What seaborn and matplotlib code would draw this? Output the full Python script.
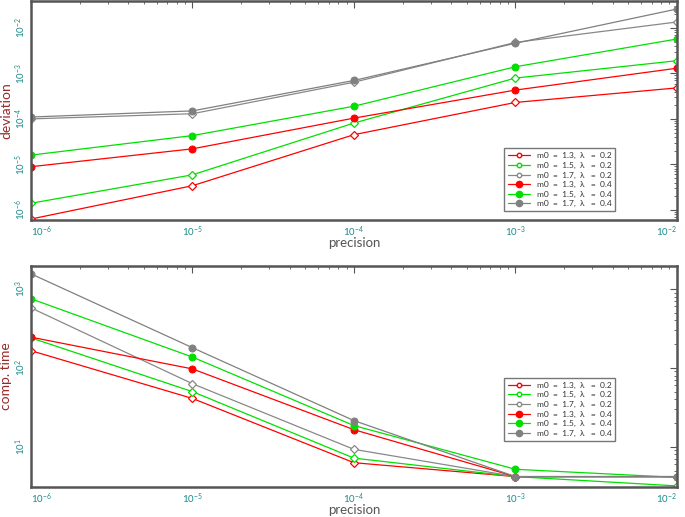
import numpy as np
import pandas as pd
import matplotlib
matplotlib.use("Agg")
import matplotlib.pyplot as plt
from matplotlib.lines import Line2D
import seaborn as sns

# precision values (x axis)
precision = [1e-6, 1e-5, 1e-4, 1e-3, 1e-2]

labels = ["m0  =  1.3,  \u03bb   =  0.2", "m0  =  1.5,  \u03bb   =  0.2", "m0  =  1.7,  \u03bb   =  0.2",
          "m0  =  1.3,  \u03bb   =  0.4", "m0  =  1.5,  \u03bb   =  0.4", "m0  =  1.7,  \u03bb   =  0.4"]

# deviation (top panel)
dev_13_02 = [6.3e-7, 3.4e-6, 4.5e-5, 2.3e-4, 4.8e-4]
dev_15_02 = [1.4e-6, 5.9e-6, 8.1e-5, 7.9e-4, 1.9e-3]
dev_17_02 = [1.0e-4, 1.3e-4, 6.4e-4, 4.8e-3, 1.35e-2]
dev_13_04 = [8.9e-6, 2.2e-5, 1.04e-4, 4.3e-4, 1.3e-3]
dev_15_04 = [1.6e-5, 4.3e-5, 1.9e-4, 1.4e-3, 5.7e-3]
dev_17_04 = [1.1e-4, 1.5e-4, 7.0e-4, 4.6e-3, 2.6e-2]

# computation time (bottom panel)
time_13_02 = [165, 41, 6.3, 4.2, 4.2]
time_15_02 = [240, 50, 7.2, 4.2, 3.2]
time_17_02 = [575, 63, 9.3, 4.2, 4.2]
time_13_04 = [245, 97, 16.5, 4.2, 4.2]
time_15_04 = [750, 137, 18.6, 5.2, 4.1]
time_17_04 = [1550, 180, 21.5, 4.2, 4.2]

deviation = [dev_13_02, dev_15_02, dev_17_02, dev_13_04, dev_15_04, dev_17_04]
comp_time = [time_13_02, time_15_02, time_17_02, time_13_04, time_15_04, time_17_04]

colors = ["#ff0000", "#00e000", "#888888", "#ff0000", "#00e000", "#808080"]
filled = [False, False, False, True, True, True]

sns.set_style("white")
plt.rcParams['font.family'] = ['Lato', 'DejaVu Sans']

teal = "#1a8a8a"
darkred = "#9a2a2a"

fig = plt.figure(figsize=(6.85, 5.17), dpi=100)
ax1 = fig.add_axes([0.0453, 0.5745, 0.9427, 0.4235])
ax2 = fig.add_axes([0.0453, 0.058, 0.9427, 0.4275])


def draw(ax, series, ylim, ylabel, leg_y):
    for vals, lab, c, f in zip(series, labels, colors, filled):
        df = pd.DataFrame({"precision": precision, "value": vals})
        if f:
            sns.lineplot(data=df, x="precision", y="value", ax=ax, color=c, lw=0.9,
                         marker="o", markersize=5, markeredgecolor=c, markerfacecolor=c)
        else:
            sns.lineplot(data=df, x="precision", y="value", ax=ax, color=c, lw=0.9,
                         marker="D", markersize=3.8, markeredgecolor=c, markerfacecolor="white",
                         markeredgewidth=0.9)
    ax.set_xscale("log")
    ax.set_yscale("log")
    ax.set_xlim(1e-6, 1e-2)
    ax.set_ylim(*ylim)
    ax.set_xlabel("precision", fontsize=9.5, color="#555555", labelpad=-1)
    ax.set_ylabel(ylabel, fontsize=10, color=darkred, labelpad=1)
    ax.tick_params(which="both", direction="in", top=True, right=True,
                   colors="#555555", labelcolor=teal, labelsize=7)
    ax.tick_params(which="major", length=5, width=0.8)
    ax.tick_params(which="minor", length=2.5, width=0.6)
    ax.tick_params(axis="y", labelrotation=90, pad=2)
    ax.tick_params(axis="x", pad=3)
    for lab in ax.get_yticklabels():
        lab.set_va("center")
    for s in ax.spines.values():
        s.set_color("#555555")
        s.set_linewidth(1.8)
    ax.grid(False)

    handles = []
    for lab, c, f in zip(labels, colors, filled):
        handles.append(Line2D([0], [0], color=c, lw=0.9, marker="o",
                              markersize=4.5 if f else 3.2, markeredgecolor=c,
                              markerfacecolor=c if f else "white", label=lab))
    leg = ax.legend(handles=handles, loc="lower left", bbox_to_anchor=(0.726, leg_y),
                    fontsize=6, frameon=True, fancybox=False, handlelength=2.6,
                    labelspacing=0.3, borderpad=0.5, handletextpad=0.8)
    leg.get_frame().set_edgecolor("#555555")
    leg.get_frame().set_linewidth(1.0)
    for t in leg.get_texts():
        t.set_color("#333333")


draw(ax1, deviation, (6.0e-7, 3.9e-2), "deviation", 0.02)
draw(ax2, comp_time, (3.1, 1950), "comp. time", 0.19)

for ax in (ax1, ax2):
    fig.canvas.draw()
    xl = ax.get_xticklabels()
    vis = [t for t in xl if 1e-6 <= t.get_position()[0] <= 1e-2]
    if vis:
        vis[0].set_ha("left")
        vis[-1].set_ha("right")

fig.savefig("out.png", dpi=100)
